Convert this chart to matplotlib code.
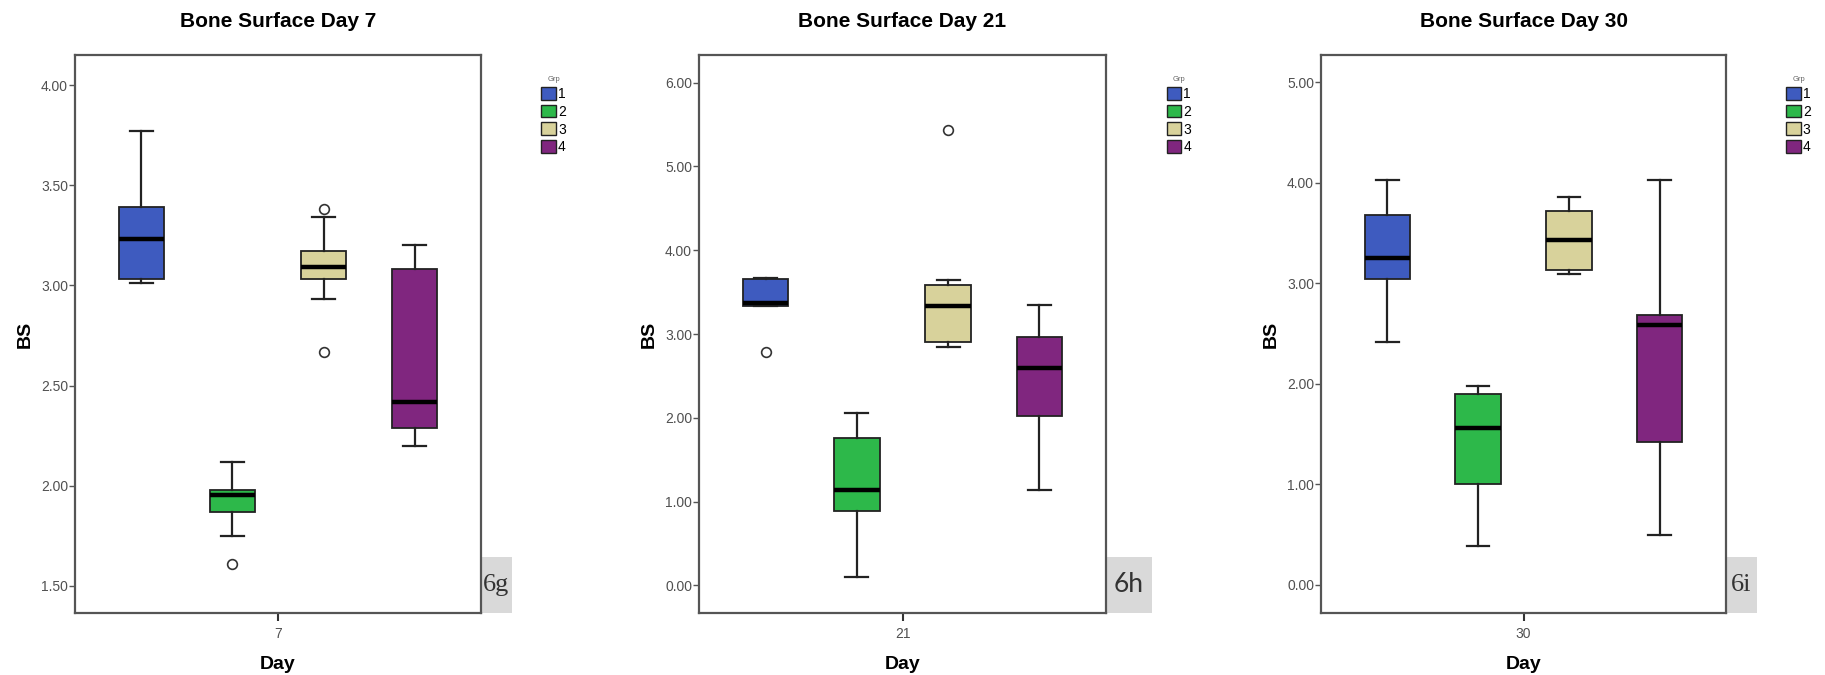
import matplotlib
matplotlib.use("Agg")
import matplotlib.pyplot as plt
from matplotlib.patches import Patch, Rectangle

plt.rcParams["font.family"] = ["Liberation Sans", "DejaVu Sans"]

# ── Data (box statistics) ───────────────────────────────────────────────────
GROUPS = ["1", "2", "3", "4"]
COLORS = ["#3e5bbf", "#2db84a", "#d8d29b", "#80267f"]

DAYS = ["7", "21", "30"]
TITLES = ["Bone Surface Day 7", "Bone Surface Day 21", "Bone Surface Day 30"]
PANEL_TAGS = ["6g", "6h", "6i"]

# day 7
d7_whislo = [3.01, 1.75, 2.93, 2.20]
d7_q1     = [3.03, 1.87, 3.03, 2.29]
d7_med    = [3.23, 1.955, 3.09, 2.42]
d7_q3     = [3.39, 1.98, 3.17, 3.08]
d7_whishi = [3.77, 2.12, 3.34, 3.20]
d7_fliers = [[], [1.61], [3.38, 2.67], []]

# day 21
d21_whislo = [3.33, 0.10, 2.84, 1.14]
d21_q1     = [3.33, 0.89, 2.91, 2.02]
d21_med    = [3.37, 1.14, 3.33, 2.60]
d21_q3     = [3.66, 1.76, 3.58, 2.97]
d21_whishi = [3.67, 2.06, 3.65, 3.35]
d21_fliers = [[2.79], [], [5.44], []]

# day 30
d30_whislo = [2.42, 0.39, 3.09, 0.50]
d30_q1     = [3.04, 1.00, 3.13, 1.42]
d30_med    = [3.25, 1.56, 3.43, 2.58]
d30_q3     = [3.68, 1.90, 3.72, 2.68]
d30_whishi = [4.03, 1.98, 3.86, 4.03]
d30_fliers = [[], [], [], []]

Y_TICKS = [
    [1.5, 2.0, 2.5, 3.0, 3.5, 4.0],
    [0, 1, 2, 3, 4, 5, 6],
    [0, 1, 2, 3, 4, 5],
]
Y_LIMS = [(1.365, 4.15), (-0.33, 6.33), (-0.28, 5.27)]

panels = [
    (d7_whislo, d7_q1, d7_med, d7_q3, d7_whishi, d7_fliers),
    (d21_whislo, d21_q1, d21_med, d21_q3, d21_whishi, d21_fliers),
    (d30_whislo, d30_q1, d30_med, d30_q3, d30_whishi, d30_fliers),
]

# ── Layout (pixel positions at dpi=100) ─────────────────────────────────────
fig = plt.figure(figsize=(18.25, 6.75), dpi=100)
AX_LEFT = [75, 699, 1321]
AX_W = [406, 407, 405]
AX_TOP, AX_BOT = 55, 613
AX_H = AX_BOT - AX_TOP
TAG_W = [31, 46, 31]
TAG_FONT = ["Liberation Serif", "Lato", "Liberation Serif"]

for k, (wlo, q1, med, q3, whi, fl) in enumerate(panels):
    ax = fig.add_axes([AX_LEFT[k] / 1825, 1 - AX_BOT / 675,
                       AX_W[k] / 1825, AX_H / 675])
    stats = [
        dict(whislo=wlo[i], q1=q1[i], med=med[i], q3=q3[i], whishi=whi[i], fliers=fl[i])
        for i in range(len(GROUPS))
    ]
    bp = ax.bxp(stats, positions=range(len(GROUPS)), widths=0.5,
                patch_artist=True, showfliers=True,
                boxprops=dict(edgecolor="#222222", linewidth=1.3),
                medianprops=dict(color="black", linewidth=3.2),
                whiskerprops=dict(color="#222222", linewidth=1.6),
                capprops=dict(color="#222222", linewidth=1.6),
                capwidths=0.25,
                flierprops=dict(marker="o", markersize=7, markerfacecolor="white",
                                markeredgecolor="#333333", markeredgewidth=1.2))
    for patch, c in zip(bp["boxes"], COLORS):
        patch.set_facecolor(c)

    ax.set_xlim(-0.73, 3.73)
    ax.set_ylim(*Y_LIMS[k])
    ax.set_xticks([1.5])
    ax.set_xticklabels([DAYS[k]])
    ax.set_yticks(Y_TICKS[k])
    ax.set_yticklabels([f"{v:.2f}" for v in Y_TICKS[k]])
    ax.tick_params(axis="y", labelsize=10, labelcolor="#505050", color="#555555",
                   length=4, width=1.0, pad=1)
    ax.tick_params(axis="x", labelsize=10, labelcolor="#505050", color="#333333",
                   length=6, width=1.5, pad=4)
    for s in ax.spines.values():
        s.set_color("#555555")
        s.set_linewidth(1.6)

    ax.set_title(TITLES[k], fontsize=15, fontweight="bold", pad=20)
    ax.set_xlabel("Day", fontsize=14, fontweight="bold", labelpad=11)
    ax.set_ylabel("BS", fontsize=14, fontweight="bold", labelpad=5)

    handles = [Patch(facecolor=c, edgecolor="#222222", linewidth=1.0, label=g)
               for g, c in zip(GROUPS, COLORS)]
    leg = ax.legend(handles=handles, title="Grp", loc="upper left",
                    bbox_to_anchor=(1.135, 0.972), frameon=False, fontsize=10,
                    title_fontsize=5.5, handlelength=1.05, handleheight=1.05,
                    labelspacing=0.26, handletextpad=0.15, borderaxespad=0)
    leg.get_title().set_color("#666666")

    # grey panel tag box outside the lower-right corner
    w = TAG_W[k] / AX_W[k]
    h = 56 / AX_H
    ax.add_patch(Rectangle((1.0, 0.0), w, h, transform=ax.transAxes,
                           facecolor="#d9d9d9", edgecolor="none", clip_on=False))
    ax.text(1.0 + w / 2, h / 2, PANEL_TAGS[k], transform=ax.transAxes,
            ha="center", va="center", fontsize=19, color="#333333",
            family=TAG_FONT[k])

fig.savefig("out.png", dpi=100)
